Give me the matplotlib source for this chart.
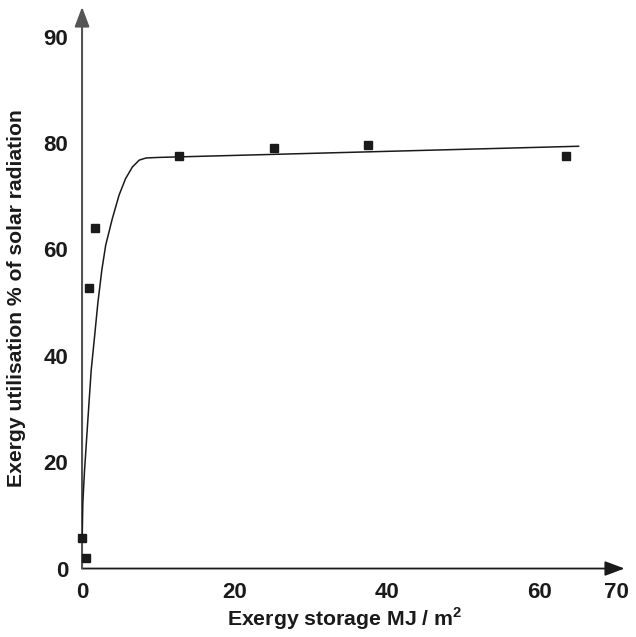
import matplotlib
matplotlib.use("Agg")
import matplotlib.pyplot as plt

plt.rcParams['font.family'] = ['Liberation Sans', 'DejaVu Sans']
plt.rcParams['mathtext.fontset'] = 'custom'
plt.rcParams['mathtext.bf'] = 'Liberation Sans:bold'
plt.rcParams['mathtext.rm'] = 'Liberation Sans:bold'

# measured points
storage = [0.0, 0.5, 0.9, 1.7, 12.7, 25.2, 37.5, 63.4]
utilisation = [5.8, 2.0, 52.8, 64.0, 77.6, 79.0, 79.7, 77.6]

# fitted curve
curve_x = [0.0, 0.1, 0.33, 0.76, 1.2, 1.64, 2.07, 2.6, 3.1, 3.97, 4.85, 5.7,
           6.6, 7.5, 8.4, 10.1, 65.1]
curve_y = [5.0, 12.3, 18.5, 27.9, 37.3, 43.6, 49.9, 56.2, 60.8, 65.8, 70.2, 73.3,
           75.5, 76.8, 77.2, 77.3, 79.4]

ytick_pos = [0, 20, 40, 60, 80, 100]
ytick_lab = ['0', '20', '40', '60', '80', '90']
xtick_pos = [0, 20, 40, 60, 70]

fig = plt.figure(figsize=(6.36, 6.37), dpi=100)
ax = fig.add_axes([0.1290, 0.1075, 0.8638, 0.885])
ax.set_xlim(0, 72)
ax.set_ylim(0, 106)

for s in ax.spines.values():
    s.set_visible(False)

# axes drawn as arrows
ax.annotate('', xy=(71.1, 0), xytext=(0, 0), xycoords='data',
            arrowprops=dict(arrowstyle='-|>,head_length=1.2,head_width=0.45',
                            color='#1a1a1a', lw=1.3, shrinkA=0, shrinkB=0),
            annotation_clip=False)
ax.annotate('', xy=(0, 105.6), xytext=(0, 0), xycoords='data',
            arrowprops=dict(arrowstyle='-|>,head_length=1.2,head_width=0.45',
                            color='#555555', lw=1.5, shrinkA=0, shrinkB=0),
            annotation_clip=False)

ax.plot(curve_x, curve_y, color='#1a1a1a', lw=1.1, zorder=3,
        solid_joinstyle='round', solid_capstyle='round')
ax.plot(storage, utilisation, 's', color='#1a1a1a', ms=6, zorder=4, clip_on=False)

ax.set_xticks(xtick_pos)
ax.set_yticks(ytick_pos)
ax.set_yticklabels(ytick_lab)
ax.tick_params(length=0, labelsize=16, colors='#1a1a1a')
ax.tick_params(axis='x', pad=10)
ax.tick_params(axis='y', pad=10)
for lab in ax.get_xticklabels() + ax.get_yticklabels():
    lab.set_fontweight('bold')

# axis titles
fig.text(345 / 636, 1 - 619 / 637, r'Exergy storage MJ / m$^{\mathbf{2}}$', fontsize=15.3,
         fontweight='bold', color='#1a1a1a', ha='center', va='center')
fig.text(17 / 636, 1 - 298 / 637, 'Exergy utilisation % of solar radiation', fontsize=15.2,
         fontweight='bold', color='#1a1a1a', ha='center', va='center', rotation=90)

fig.savefig('out.png', dpi=100)
